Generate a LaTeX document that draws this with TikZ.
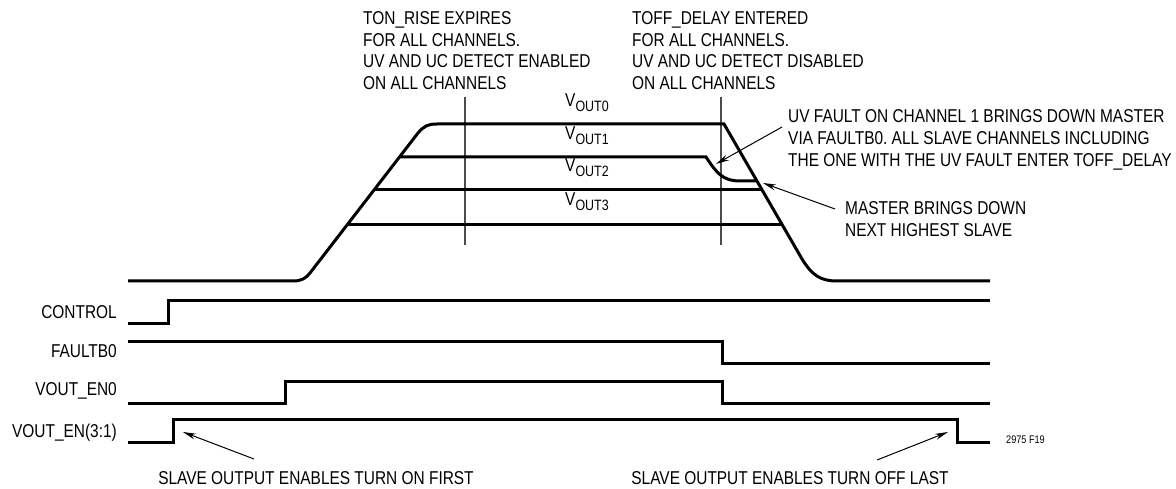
\documentclass[tikz,border=0pt]{standalone}
\usepackage{fontspec}
\setmainfont{Liberation Sans}[FakeStretch=0.83]
\usetikzlibrary{arrows.meta}
\frenchspacing
\newcommand\voutlbl[1]{V\raisebox{-4.5pt}{\fontsize{15}{15}\selectfont OUT#1}}
\tikzset{
  sig/.style={line width=3pt, line join=miter, black},
  marker/.style={line width=1.1pt, black!70},
  note/.style={line width=1pt, -{Stealth[length=13pt,width=6pt]}},
  txt/.style={inner sep=0pt, anchor=base west, font=\fontsize{18.6}{21.7}\selectfont},
  lbl/.style={inner sep=0pt, anchor=base east, font=\fontsize{18.6}{21.7}\selectfont},
  tiny/.style={inner sep=0pt, anchor=base west, font=\fontsize{11}{12}\selectfont}
}
\begin{document}
\begin{tikzpicture}[x=1pt,y=-1pt]
\useasboundingbox (0,0) rectangle (1176,489);
% top annotations
\node[txt] (t1a) at (363,25) {TON\_RISE EXPIRES};
\node[txt] (t1b) at (363,47) {FOR ALL CHANNELS.};
\node[txt] (t1c) at (363,68) {UV AND UC DETECT ENABLED};
\node[txt] (t1d) at (363,90) {ON ALL CHANNELS};
\node[txt] (t2a) at (632,25) {TOFF\_DELAY ENTERED};
\node[txt] (t2b) at (632,47) {FOR ALL CHANNELS.};
\node[txt] (t2c) at (632,68) {UV AND UC DETECT DISABLED};
\node[txt] (t2d) at (632,90) {ON ALL CHANNELS};
% vertical markers
\draw[marker] (465,97) -- (465,245);
\draw[marker] (721,97) -- (721,245);
% output voltages
\draw[sig] (128,281) -- (293,281) .. controls (302,281) and (306,278) .. (310,273)
  -- (418,133) .. controls (424,126) and (428,124) .. (437,124)
  -- (724,124) -- (802,259) .. controls (812,275) and (820,281) .. (837,281) -- (990,281);
\draw[sig] (399,157) -- (706,157) .. controls (716,172) and (722,181) .. (740,181) -- (757,181);
\draw[sig] (374,190) -- (762,190);
\draw[sig] (347,225) -- (783,225);
\node[txt] (v0) at (565,107) {\voutlbl{0}};
\node[txt] (v1) at (565,140) {\voutlbl{1}};
\node[txt] (v2) at (565,172) {\voutlbl{2}};
\node[txt] (v3) at (565,206) {\voutlbl{3}};
% right annotations
\node[txt] (r1a) at (788,123) {UV FAULT ON CHANNEL 1 BRINGS DOWN MASTER};
\node[txt] (r1b) at (788,145) {VIA FAULTB0. ALL SLAVE CHANNELS INCLUDING};
\node[txt] (r1c) at (788,167) {THE ONE WITH THE UV FAULT ENTER TOFF\_DELAY};
\node[txt] (r2a) at (845,215) {MASTER BRINGS DOWN};
\node[txt] (r2b) at (845,237) {NEXT HIGHEST SLAVE};
\coordinate (a1s) at (782,127);
\coordinate (a1e) at (716,164);
\coordinate (a2s) at (835,209);
\coordinate (a2e) at (763,183);
\draw[note] (a1s) -- (a1e);
\draw[note] (a2s) -- (a2e);
% digital signals
\node[lbl] (lc) at (117,318) {CONTROL};
\node[lbl] (lf) at (117,357) {FAULTB0};
\node[lbl] (le0) at (117,395) {VOUT\_EN0};
\node[lbl] (le31) at (117,437) {VOUT\_EN(3:1)};
\draw[sig] (128,323) -- (168,323) -- (168,301) -- (990,301);
\draw[sig] (128,341) -- (722,341) -- (722,363) -- (990,363);
\draw[sig] (128,403) -- (285,403) -- (285,381) -- (722,381) -- (722,403) -- (990,403);
\draw[sig] (128,442) -- (173,442) -- (173,419) -- (957,419) -- (957,442) -- (990,442);
\node[tiny] (fig) at (1006,443) {2975 F19};
% bottom annotations
\node[txt, anchor=base] (b1) at (316,484) {SLAVE OUTPUT ENABLES TURN ON FIRST};
\node[txt, anchor=base] (b2) at (790,484) {SLAVE OUTPUT ENABLES TURN OFF LAST};
\coordinate (b1s) at (254,459);
\coordinate (b1e) at (183,432);
\coordinate (b2s) at (877,460);
\coordinate (b2e) at (948,432);
\draw[note] (b1s) -- (b1e);
\draw[note] (b2s) -- (b2e);
\end{tikzpicture}
\end{document}
